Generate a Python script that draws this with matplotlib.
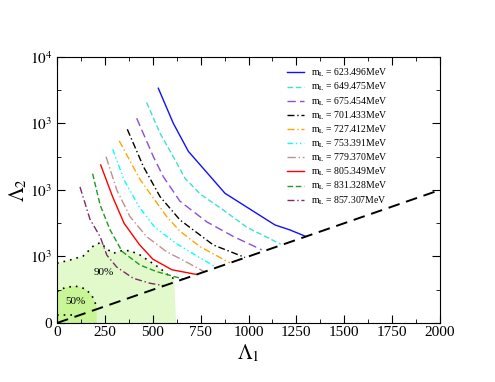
import numpy as np
import matplotlib
matplotlib.use("Agg")
import matplotlib.pyplot as plt
from matplotlib.ticker import FixedLocator, FixedFormatter, MultipleLocator

plt.rcParams['font.family'] = ['Liberation Serif', 'DejaVu Serif']
plt.rcParams['mathtext.fontset'] = 'stix'

# curve labels (m_L values, MeV)
masses = ["623.496", "649.475", "675.454", "701.433", "727.412",
          "753.391", "779.370", "805.349", "831.328", "857.307"]

# points, (Lambda1, Lambda2)
x_623 = [529, 607, 686, 877, 1138, 1217, 1300]
y_623 = [3529, 3003, 2580, 1950, 1474, 1398, 1300]
x_649 = [468, 538, 607, 668, 747, 868, 991, 1168]
y_649 = [3315, 2852, 2501, 2176, 1940, 1699, 1440, 1185]
x_675 = [416, 503, 555, 642, 782, 921, 1069]
y_675 = [3078, 2501, 2200, 1830, 1520, 1300, 1100]
x_701 = [367, 451, 538, 642, 816, 982]
y_701 = [2912, 2351, 1899, 1549, 1173, 985]
x_727 = [325, 433, 573, 642, 747, 903]
y_727 = [2737, 2160, 1599, 1380, 1147, 903]
x_753 = [291, 350, 430, 510, 620, 740, 834]
y_753 = [2612, 2150, 1740, 1440, 1200, 990, 834]
x_779 = [256, 312, 381, 468, 572, 680, 770]
y_779 = [2501, 2000, 1599, 1298, 1072, 910, 770]
x_805 = [228, 290, 350, 430, 500, 600, 729]
y_805 = [2376, 1900, 1500, 1180, 960, 800, 729]
x_831 = [186, 225, 277, 340, 433, 520, 660]
y_831 = [2245, 1775, 1400, 1075, 872, 772, 660]
x_857 = [120, 172, 225, 260, 312, 398, 486, 560]
y_857 = [2045, 1560, 1298, 1020, 840, 672, 597, 560]

# confidence regions
x_90 = [0, 68, 137, 190, 225, 268, 294, 338, 381, 433, 486, 538, 590, 625]
y_90 = [898, 947, 1007, 1158, 1208, 1098, 1048, 1087, 1087, 1023, 922, 822, 697, 647]
x_50 = [0, 40, 94, 146, 181, 207]
y_50 = [470, 530, 556, 515, 421, 250]
x_50_low = [0, 80]
y_50_low = [120, 120]
fill90_right = [(612, 660), (622, 0)]

diag_x = [0, 2000]
diag_y = [0, 2000]

curves = [(x_623, y_623), (x_649, y_649), (x_675, y_675), (x_701, y_701),
          (x_727, y_727), (x_753, y_753), (x_779, y_779), (x_805, y_805),
          (x_831, y_831), (x_857, y_857)]
colors = ["#1010ff", "#40e0d0", "#8a4fd8", "#000000", "#ffa500",
          "#00ffff", "#c09090", "#ff0000", "#229922", "#7f2a6a"]
dashes = [None, (4, 2), (6, 3), (5, 2, 1, 2), (5, 2, 1, 2),
          (4, 2, 1, 2, 1, 2), (6, 2, 1, 2), None, (4, 2), (5, 2, 1, 2)]

fig = plt.figure(figsize=(4.95, 3.82), dpi=100)
ax = fig.add_axes([0.1152, 0.1545, 0.7737, 0.6965])

# shaded regions
poly90_x = x_90[:-1] + [p[0] for p in fill90_right]
poly90_y = y_90[:-1] + [p[1] for p in fill90_right]
ax.fill(poly90_x + [0], poly90_y + [0], color="#e2f9cc", lw=0, zorder=0)
ax.fill(x_50 + [207, 0], y_50 + [0, 0], color="#c8f596", lw=0, zorder=0)
ax.plot(x_90, y_90, ls=(0, (1, 3)), color="k", lw=1.2, zorder=1)
ax.plot(x_50, y_50, ls=(0, (1, 3)), color="k", lw=1.2, zorder=1)
ax.plot(x_50_low, y_50_low, ls=(0, (1, 3)), color="k", lw=1.2, zorder=1)
ax.text(242, 760, "90%", fontsize=8, ha="center", va="center")
ax.text(94, 320, "50%", fontsize=8, ha="center", va="center")

for (xs, ys), c, d, m in zip(curves, colors, dashes, masses):
    line, = ax.plot(xs, ys, color=c, lw=1.0, label=r"m$_\mathrm{L}$ = " + m + "MeV")
    if d is not None:
        line.set_dashes(d)

ax.plot(diag_x, diag_y, color="k", lw=1.4, dashes=(6, 3.5), zorder=3)

ax.set_xlim(0, 2000)
ax.set_ylim(0, 4000)
ax.xaxis.set_major_locator(MultipleLocator(250))
ax.xaxis.set_minor_locator(MultipleLocator(125))
ax.yaxis.set_major_locator(FixedLocator([0, 1000, 2000, 3000, 4000]))
ax.yaxis.set_major_formatter(FixedFormatter(["0", "$10^3$", "$10^3$", "$10^3$", "$10^4$"]))
ax.yaxis.set_minor_locator(MultipleLocator(500))
ax.tick_params(which="both", direction="in", top=True, right=True, labelsize=11)
ax.tick_params(which="major", length=6)
ax.tick_params(which="minor", length=3)
ax.tick_params(axis="x", pad=2)
ax.set_xlabel(r"$\Lambda_1$", fontsize=15, labelpad=3)
ax.set_ylabel(r"$\Lambda_2$", fontsize=15, labelpad=0)

ax.legend(loc="upper left", bbox_to_anchor=(0.600, 0.963), frameon=False,
          borderpad=0, borderaxespad=0,
          fontsize=7, handlelength=1.75, labelspacing=0.17, handletextpad=0.7)

fig.savefig("out.png", dpi=100)
